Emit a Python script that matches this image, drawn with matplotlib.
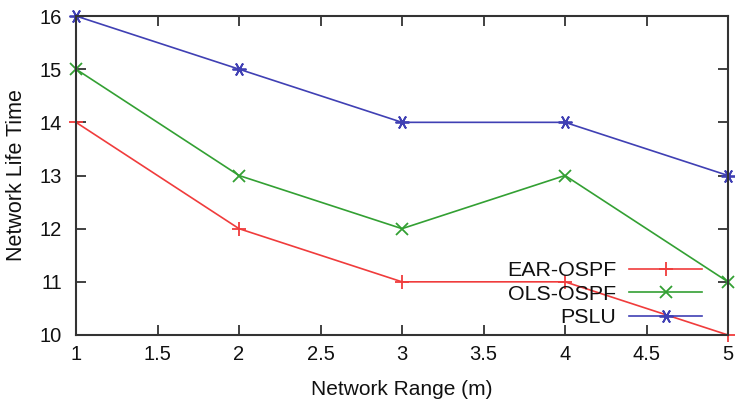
import matplotlib
matplotlib.use("Agg")
import matplotlib.pyplot as plt

plt.rcParams['font.family'] = ['Liberation Sans', 'DejaVu Sans']

network_range = [1, 2, 3, 4, 5]
ear_ospf = [14, 12, 11, 11, 10]
ols_ospf = [15, 13, 12, 13, 11]
pslu = [16, 15, 14, 14, 13]

x_ticks = [1, 1.5, 2, 2.5, 3, 3.5, 4, 4.5, 5]
x_tick_labels = ["1", "1.5", "2", "2.5", "3", "3.5", "4", "4.5", "5"]
y_ticks = [10, 11, 12, 13, 14, 15, 16]

fig = plt.figure(figsize=(7.35, 3.99), dpi=100)
ax = fig.add_axes([76 / 735, 64 / 399, 652 / 735, 319 / 399])

ax.plot(network_range, ear_ospf, color='#f03c3c', lw=1.2, marker='+', ms=10,
        mew=1.3, label='EAR-OSPF', clip_on=False)
ax.plot(network_range, ols_ospf, color='#33a033', lw=1.2, marker='x', ms=8,
        mew=1.3, label='OLS-OSPF', clip_on=False)
ax.plot(network_range, pslu, color='#4040b4', lw=1.2, marker=(6, 2, 90), ms=10,
        mew=1.3, label='PSLU', clip_on=False)

ax.set_xlim(1, 5)
ax.set_ylim(10, 16)
ax.set_xticks(x_ticks)
ax.set_xticklabels(x_tick_labels)
ax.set_yticks(y_ticks)
ax.tick_params(direction='in', length=7, width=1.3, labelsize=14.5,
               top=True, right=True, colors='#333333', labelcolor='#111111')
ax.tick_params(axis='x', pad=7)
ax.tick_params(axis='y', pad=10)
for s in ax.spines.values():
    s.set_linewidth(1.5)
    s.set_color('#333333')

ax.set_xlabel('Network Range (m)', fontsize=15, labelpad=12, color='#111111')
ax.set_ylabel('Network Life Time', fontsize=15.5, labelpad=9, color='#111111')

leg = ax.legend(loc='lower right', bbox_to_anchor=(702 / 735, 72 / 399),
                bbox_transform=fig.transFigure, frameon=False,
                markerfirst=False, fontsize=15.4, handlelength=3.4,
                labelspacing=0.2, handletextpad=0.6, borderaxespad=0.0,
                borderpad=0.0)
for t in leg.get_texts():
    t.set_horizontalalignment('right')
    t.set_color('#111111')

fig.savefig('out.png', dpi=100)
